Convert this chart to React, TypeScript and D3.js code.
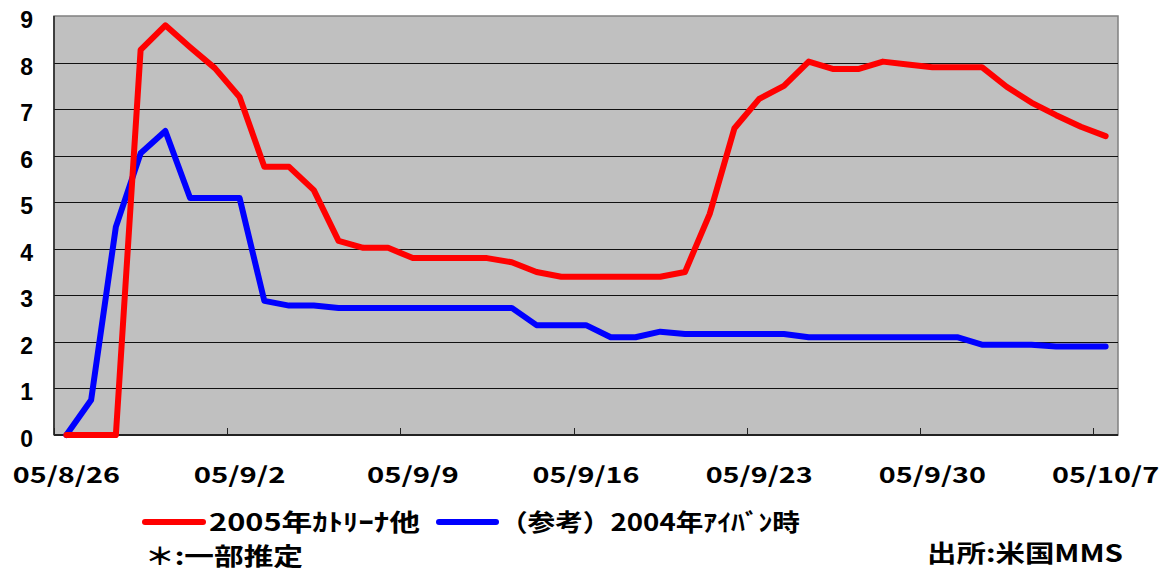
import React from "react";
import * as d3 from "d3";

// daily values, 05/8/26 .. 05/10/7
const katrina2005 = [
  0, 0, 0, 8.27, 8.8, 8.33, 7.88, 7.26, 5.76, 5.76, 5.26, 4.17, 4.02, 4.02, 3.8,
  3.8, 3.8, 3.8, 3.71, 3.5, 3.4, 3.4, 3.4, 3.4, 3.4, 3.5, 4.75, 6.59, 7.22, 7.5,
  8.02, 7.86, 7.86, 8.02, 7.96, 7.9, 7.9, 7.9, 7.48, 7.14, 6.87, 6.62, 6.42,
];
const ivan2004 = [
  0, 0.75, 4.47, 6.05, 6.53, 5.09, 5.09, 5.09, 2.88, 2.78, 2.78, 2.73, 2.73, 2.73,
  2.73, 2.73, 2.73, 2.73, 2.73, 2.36, 2.36, 2.36, 2.1, 2.1, 2.22, 2.17, 2.17, 2.17,
  2.17, 2.17, 2.1, 2.1, 2.1, 2.1, 2.1, 2.1, 2.1, 1.94, 1.94, 1.94, 1.9, 1.9, 1.9,
];
const xTickLabels = ["05/8/26", "05/9/2", "05/9/9", "05/9/16", "05/9/23", "05/9/30", "05/10/7"];
const yTicks = [0, 1, 2, 3, 4, 5, 6, 7, 8, 9];
const seriesNames = ["2005年ｶﾄﾘｰﾅ他", "（参考）2004年ｱｲﾊﾞﾝ時"];

const W = 1169;
const H = 577;
const plot = { left: 54, right: 1118, top: 16, bottom: 435 };

export default function App() {
  const days = d3.range(katrina2005.length);
  const x = d3.scaleBand<number>().domain(days).range([plot.left, plot.right]);
  const y = d3.scaleLinear().domain([0, 9]).range([plot.bottom, plot.top]);
  const bw = x.bandwidth();

  const line = d3
    .line<number>()
    .x((_, i) => (x(i) as number) + bw / 2)
    .y((v) => y(v));

  const tickDays = xTickLabels.map((_, k) => k * 7);
  const jp = "'Noto Sans CJK JP', sans-serif";

  return (
    <svg
      width={W}
      height={H}
      style={{ position: "absolute", left: 0, top: 0, background: "#fff" }}
    >
      <rect
        x={plot.left}
        y={plot.top}
        width={plot.right - plot.left}
        height={plot.bottom - plot.top}
        fill="#c0c0c0"
        stroke="#808080"
        strokeWidth={1.5}
      />
      {yTicks.slice(1, -1).map((t) => (
        <line
          key={t}
          x1={plot.left}
          x2={plot.right}
          y1={Math.round(y(t)) + 0.5}
          y2={Math.round(y(t)) + 0.5}
          stroke="#111"
          strokeWidth={1}
        />
      ))}
      {/* axes */}
      <line x1={plot.left} x2={plot.left} y1={plot.top} y2={plot.bottom} stroke="#222" strokeWidth={1.5} />
      <line x1={plot.left} x2={plot.right} y1={plot.bottom} y2={plot.bottom} stroke="#222" strokeWidth={2} />
      {tickDays.map((d) => (
        <line
          key={d}
          x1={Math.round(x(d) as number) + 0.5}
          x2={Math.round(x(d) as number) + 0.5}
          y1={plot.bottom}
          y2={plot.bottom - 7}
          stroke="#222"
          strokeWidth={1}
        />
      ))}
      {yTicks.map((t) => (
        <text
          key={t}
          x={33}
          y={y(t) + 12}
          textAnchor="end"
          fontFamily="'Liberation Sans', Arial, sans-serif"
          fontWeight="bold"
          fontSize={23}
          fill="#000"
        >
          {t}
        </text>
      ))}
      {xTickLabels.map((lab, k) => (
        <text
          key={lab}
          x={(x(tickDays[k]) as number) + bw / 2}
          y={483}
          textAnchor="middle"
          fontFamily={jp}
          fontWeight="bold"
          fontSize={22}
          textLength={lab.length * 15.3}
          lengthAdjust="spacingAndGlyphs"
          fill="#000"
        >
          {lab}
        </text>
      ))}
      <path d={line(ivan2004) ?? ""} fill="none" stroke="#0000ff" strokeWidth={6} strokeLinejoin="round" strokeLinecap="round" />
      <path d={line(katrina2005) ?? ""} fill="none" stroke="#ff0000" strokeWidth={6} strokeLinejoin="round" strokeLinecap="round" />

      {/* legend */}
      <line x1={145} x2={203} y1={522} y2={522} stroke="#ff0000" strokeWidth={6} strokeLinecap="round" />
      <text x={209} y={531} fontFamily={jp} fontWeight="bold" fontSize={24} textLength={211} lengthAdjust="spacingAndGlyphs">
        {seriesNames[0]}
      </text>
      <line x1={439} x2={496} y1={522} y2={522} stroke="#0000ff" strokeWidth={6} strokeLinecap="round" />
      <text x={500} y={531} fontFamily={jp} fontWeight="bold" fontSize={24} textLength={300} lengthAdjust="spacingAndGlyphs">
        {seriesNames[1]}
      </text>
      <text x={145} y={565} fontFamily={jp} fontWeight="bold" fontSize={24} textLength={158} lengthAdjust="spacingAndGlyphs">
        ＊:一部推定
      </text>
      <text x={927} y={562} fontFamily={jp} fontWeight="bold" fontSize={24} textLength={196} lengthAdjust="spacingAndGlyphs">
        出所:米国MMS
      </text>
    </svg>
  );
}
